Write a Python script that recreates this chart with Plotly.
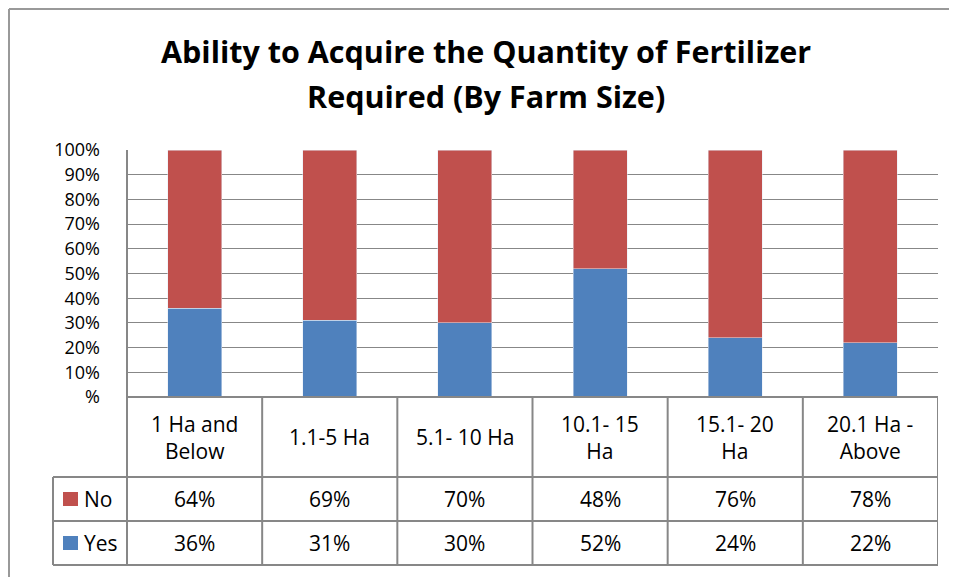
import plotly.graph_objects as go

W, H = 957, 577
OFF = 8  # the page body margin moves the figure by 8px

farm_sizes = ["1 Ha and<br>Below", "1.1-5 Ha", "5.1- 10 Ha", "10.1- 15<br>Ha", "15.1- 20<br>Ha", "20.1 Ha -<br>Above"]
yes_values = [36, 31, 30, 52, 24, 22]
no_values = [64, 69, 70, 48, 76, 78]
y_tick_vals = [0, 10, 20, 30, 40, 50, 60, 70, 80, 90, 100]
y_tick_text = ["%", "10%", "20%", "30%", "40%", "50%", "60%", "70%", "80%", "90%", "100%"]
title_lines = ["Ability to Acquire the Quantity of Fertilizer", "Required (By Farm Size)"]

RED = '#C0504D'
BLUE = '#4F81BD'
GRID = '#878787'
FONT = 'Open Sans'


def px_x(p):
    return (p - OFF) / W


def px_y(p):
    return 1 - (p - OFF) / H


# pixel layout (screen coords) of the Excel-style chart
plot_left, plot_right, plot_top, plot_bottom = 127, 938, 150, 397
row_no, row_yes, table_bottom = 477, 521, 565
legend_left = 53

x_idx = list(range(len(farm_sizes)))

fig = go.Figure()
fig.add_trace(go.Bar(x=x_idx, y=yes_values, name='Yes', marker_color=BLUE, width=0.4))
fig.add_trace(go.Bar(x=x_idx, y=no_values, name='No', marker_color=RED, width=0.4))

shapes = []
line_style = dict(color=GRID, width=2)
# chart border (top and left visible)
shapes.append(dict(type='line', xref='paper', yref='paper', x0=1 / W, x1=1.02,
                   y0=1 - 1 / H, y1=1 - 1 / H, line=dict(color='#999999', width=2)))
shapes.append(dict(type='line', xref='paper', yref='paper', x0=1 / W, x1=1 / W,
                   y0=1 - 1 / H, y1=-0.02, line=dict(color='#999999', width=2)))
# vertical table lines at category boundaries
for i in range(len(farm_sizes) + 1):
    shapes.append(dict(type='line', xref='x', yref='paper', x0=i - 0.5, x1=i - 0.5,
                       y0=px_y(plot_bottom), y1=px_y(table_bottom), line=line_style))
# left border of plot area continues into table
shapes.append(dict(type='line', xref='paper', yref='paper', x0=px_x(plot_left), x1=px_x(plot_left),
                   y0=px_y(plot_top), y1=px_y(table_bottom), line=line_style))
# legend column left edge
shapes.append(dict(type='line', xref='paper', yref='paper', x0=px_x(legend_left), x1=px_x(legend_left),
                   y0=px_y(row_no), y1=px_y(table_bottom), line=line_style))
# horizontal table lines
for yy in (row_no, row_yes, table_bottom):
    shapes.append(dict(type='line', xref='paper', yref='paper', x0=px_x(legend_left), x1=px_x(plot_right),
                       y0=px_y(yy), y1=px_y(yy), line=line_style))
shapes.append(dict(type='line', xref='paper', yref='paper', x0=px_x(plot_left), x1=px_x(plot_right),
                   y0=px_y(plot_bottom), y1=px_y(plot_bottom), line=line_style))
# legend keys
for (y0, y1), col in (((492, 506), RED), ((536, 550), BLUE)):
    shapes.append(dict(type='rect', xref='paper', yref='paper', x0=px_x(63), x1=px_x(78),
                       y0=px_y(y0), y1=px_y(y1), fillcolor=col, line_width=0))

annotations = []
font = dict(family=FONT, size=21, color='black')
for i, label in enumerate(farm_sizes):
    annotations.append(dict(x=i, xref='x', y=px_y((plot_bottom + row_no) / 2), yref='paper',
                            text=label, showarrow=False, font=font, align='center', yanchor='middle'))
    annotations.append(dict(x=i, xref='x', y=px_y((row_no + row_yes) / 2), yref='paper',
                            text=f"{no_values[i]}%", showarrow=False, font=font, yanchor='middle'))
    annotations.append(dict(x=i, xref='x', y=px_y((row_yes + table_bottom) / 2), yref='paper',
                            text=f"{yes_values[i]}%", showarrow=False, font=font, yanchor='middle'))
annotations.append(dict(x=px_x(82), xref='paper', y=px_y((row_no + row_yes) / 2), yref='paper',
                        text="No", showarrow=False, font=font, xanchor='left', yanchor='middle'))
annotations.append(dict(x=px_x(82), xref='paper', y=px_y((row_yes + table_bottom) / 2), yref='paper',
                        text="Yes", showarrow=False, font=font, xanchor='left', yanchor='middle'))
# two-line title, set as separate lines to get Excel's line spacing
for line, yc in zip(title_lines, (51, 96)):
    annotations.append(dict(x=px_x(486), xref='paper', y=px_y(yc), yref='paper',
                            text=f"<b>{line}</b>", showarrow=False, yanchor='middle',
                            font=dict(family=FONT, size=30.5, color='black')))

fig.update_layout(
    width=W, height=H,
    margin=dict(l=0, r=0, t=0, b=0, autoexpand=False),
    paper_bgcolor='white', plot_bgcolor='white',
    barmode='stack',
    showlegend=False,
    font=dict(family=FONT, size=21, color='black'),
    shapes=shapes,
    annotations=annotations,
    xaxis=dict(domain=[px_x(plot_left), px_x(plot_right)], range=[-0.5, 5.5],
               showticklabels=False, showgrid=False, zeroline=False, showline=False),
    yaxis=dict(domain=[px_y(plot_bottom), px_y(plot_top)], range=[0, 100],
               tickvals=y_tick_vals, ticktext=y_tick_text, showgrid=True, gridcolor=GRID, gridwidth=1,
               zeroline=False, showline=False, ticks='', ticklabelstandoff=26,
               tickfont=dict(family=FONT, size=18)),
)

fig.write_html("out.html")
